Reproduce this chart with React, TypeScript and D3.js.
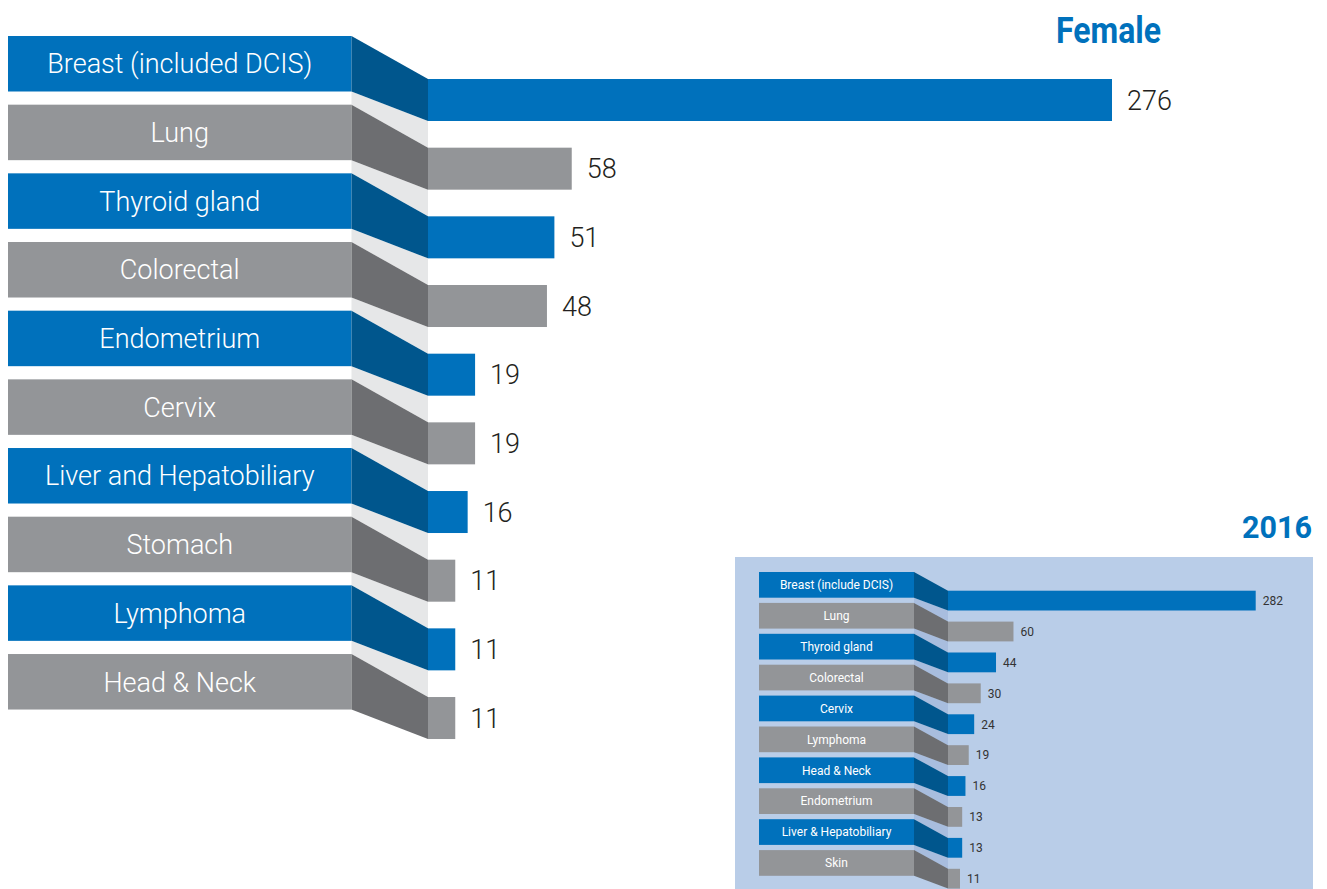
import React from "react";
import * as d3 from "d3";

const femaleCategories = [
  "Breast (included DCIS)",
  "Lung",
  "Thyroid gland",
  "Colorectal",
  "Endometrium",
  "Cervix",
  "Liver and Hepatobiliary",
  "Stomach",
  "Lymphoma",
  "Head & Neck",
];
const femaleValues = [276, 58, 51, 48, 19, 19, 16, 11, 11, 11];

const categories2016 = [
  "Breast (include DCIS)",
  "Lung",
  "Thyroid gland",
  "Colorectal",
  "Cervix",
  "Lymphoma",
  "Head & Neck",
  "Endometrium",
  "Liver & Hepatobiliary",
  "Skin",
];
const values2016 = [282, 60, 44, 30, 24, 19, 16, 13, 13, 11];

const BLUE = "#0071BC";
const DARK_BLUE = "#00568D";
const GRAY = "#939598";
const DARK_GRAY = "#6D6E71";
const FONT = "Roboto, 'Liberation Sans', Arial, Helvetica, sans-serif";

type PanelProps = {
  cats: string[];
  vals: number[];
  boxX0: number;
  boxX1: number;
  barX0: number;
  barXMax: number;
  boxTop: number;
  boxH: number;
  barTop: number;
  barH: number;
  step: number;
  bandColor: string;
  labelSize: number;
  valueSize: number;
  valueGap: number;
  valueColor: string;
  weight: number;
};

function Panel(p: PanelProps) {
  const n = p.cats.length;
  const yBox = d3
    .scaleBand<string>()
    .domain(p.cats)
    .range([p.boxTop, p.boxTop + (n - 1) * p.step + p.boxH])
    .paddingInner((p.step - p.boxH) / p.step)
    .paddingOuter(0);
  const yBar = d3
    .scaleBand<string>()
    .domain(p.cats)
    .range([p.barTop, p.barTop + (n - 1) * p.step + p.barH])
    .paddingInner((p.step - p.barH) / p.step)
    .paddingOuter(0);
  const x = d3
    .scaleLinear()
    .domain([0, d3.max(p.vals) as number])
    .range([p.barX0, p.barXMax]);
  const bw = yBox.bandwidth();
  const bh = yBar.bandwidth();

  return (
    <g>
      {p.cats.map((c, i) => {
        if (i === n - 1) return null;
        const next = p.cats[i + 1];
        const pts = [
          [p.boxX1, (yBox(c) as number) + bw],
          [p.barX0, (yBar(c) as number) + bh],
          [p.barX0, yBar(next) as number],
          [p.boxX1, yBox(next) as number],
        ];
        return <polygon key={"band" + i} points={pts.map((q) => q.join(",")).join(" ")} fill={p.bandColor} />;
      })}
      {p.cats.map((c, i) => {
        const isBlue = i % 2 === 0;
        const by = yBox(c) as number;
        const ry = yBar(c) as number;
        const pts = [
          [p.boxX1, by],
          [p.barX0, ry],
          [p.barX0, ry + bh],
          [p.boxX1, by + bw],
        ];
        return (
          <g key={c}>
            <rect x={p.boxX0} y={by} width={p.boxX1 - p.boxX0} height={bw} fill={isBlue ? BLUE : GRAY} />
            <polygon points={pts.map((q) => q.join(",")).join(" ")} fill={isBlue ? DARK_BLUE : DARK_GRAY} />
            <rect x={p.barX0} y={ry} width={x(p.vals[i]) - p.barX0} height={bh} fill={isBlue ? BLUE : GRAY} />
            <text
              x={(p.boxX0 + p.boxX1) / 2}
              y={by + bw / 2}
              dy="0.36em"
              textAnchor="middle"
              fill="#ffffff"
              fontFamily={FONT}
              fontWeight={p.weight}
              fontSize={p.labelSize}
            >
              {c}
            </text>
            <text
              x={x(p.vals[i]) + p.valueGap}
              y={ry + bh / 2}
              dy="0.36em"
              fill={p.valueColor}
              fontFamily={FONT}
              fontWeight={p.weight}
              fontSize={p.valueSize}
            >
              {p.vals[i]}
            </text>
          </g>
        );
      })}
    </g>
  );
}

export default function App() {
  return (
    <svg
      width={1327}
      height={889}
      style={{ position: "absolute", left: 0, top: 0, background: "#ffffff" }}
    >
      <rect x={0} y={0} width={1327} height={889} fill="#ffffff" />
      <text
        x={1056}
        y={43}
        fill={BLUE}
        fontFamily="Roboto, 'Liberation Sans', Arial, sans-serif"
        fontWeight={700}
        fontSize={36}
        textLength={105}
        lengthAdjust="spacingAndGlyphs"
      >
        Female
      </text>
      <Panel
        cats={femaleCategories}
        vals={femaleValues}
        boxX0={8}
        boxX1={351.5}
        barX0={428}
        barXMax={1112}
        boxTop={36}
        boxH={55.5}
        barTop={79}
        barH={42}
        step={68.67}
        bandColor="#E6E7E8"
        labelSize={27}
        valueSize={27}
        valueGap={15}
        valueColor="#231F20"
        weight={300}
      />

      <text
        x={1242}
        y={538}
        fill={BLUE}
        fontFamily="Roboto, 'Liberation Sans', Arial, sans-serif"
        fontWeight={700}
        fontSize={32}
        textLength={70}
        lengthAdjust="spacingAndGlyphs"
      >
        2016
      </text>
      <rect x={735} y={557} width={578} height={332} fill="#B9CDE8" />
      <Panel
        cats={categories2016}
        vals={values2016}
        boxX0={759}
        boxX1={914}
        barX0={948}
        barXMax={1255.7}
        boxTop={572}
        boxH={25.7}
        barTop={590.7}
        barH={19.8}
        step={30.9}
        bandColor="#A8BDDE"
        labelSize={12}
        valueSize={12}
        valueGap={7}
        valueColor="#333333"
        weight={400}
      />
    </svg>
  );
}
